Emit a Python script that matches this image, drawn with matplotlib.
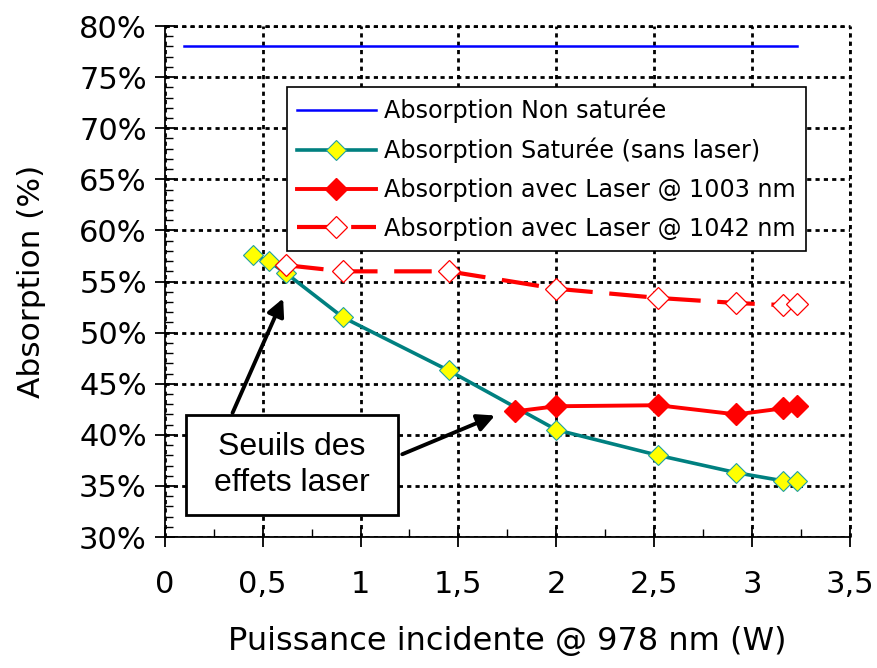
import matplotlib
matplotlib.use("Agg")
import matplotlib.pyplot as plt
from matplotlib.patches import Rectangle
from matplotlib.ticker import MultipleLocator, FuncFormatter

# ── données ─────────────────────────────────────────────────
x_nonsat = [0.1, 3.23]
y_nonsat = [78.0, 78.0]

x_sat = [0.45, 0.53, 0.62, 0.91, 1.45, 2.0, 2.52, 2.92, 3.16, 3.23]
y_sat = [57.6, 57.0, 55.8, 51.5, 46.3, 40.5, 38.0, 36.3, 35.5, 35.5]

x_1003 = [1.79, 2.0, 2.52, 2.92, 3.16, 3.23]
y_1003 = [42.3, 42.8, 42.9, 42.0, 42.6, 42.8]

x_1042 = [0.62, 0.91, 1.45, 2.0, 2.52, 2.92, 3.16, 3.23]
y_1042 = [56.6, 56.0, 56.0, 54.3, 53.4, 52.9, 52.7, 52.8]

labels = ["Absorption Non saturée", "Absorption Saturée (sans laser)",
          "Absorption avec Laser @ 1003 nm", "Absorption avec Laser @ 1042 nm"]

plt.rcParams["font.family"] = ["DejaVu Sans"]

fig = plt.figure(figsize=(8.77, 6.68), dpi=100)
ax = fig.add_axes([0.188, 0.196, 0.781, 0.765])

ax.plot(x_nonsat, y_nonsat, color="#0000ff", lw=1.8, label=labels[0])
ax.plot(x_sat, y_sat, color="#008080", lw=2.6, marker="D", ms=10,
        mfc="#ffff00", mec="#20a0a0", mew=0.8, label=labels[1], zorder=4)
ax.plot(x_1003, y_1003, color="#ff0000", lw=2.8, marker="D", ms=11,
        mfc="#ff0000", mec="#ff0000", label=labels[2], zorder=4)
ax.plot(x_1042, y_1042, color="#ff0000", lw=3, ls=(0, (9, 4)), marker="D", ms=11,
        mfc="white", mec="#ff0000", mew=0.9, label=labels[3], zorder=4)

ax.set_xlim(0, 3.5)
ax.set_ylim(30, 80)
ax.xaxis.set_major_locator(MultipleLocator(0.5))
ax.xaxis.set_minor_locator(MultipleLocator(0.25))
ax.yaxis.set_major_locator(MultipleLocator(5))
ax.yaxis.set_minor_locator(MultipleLocator(1))
ax.xaxis.set_major_formatter(FuncFormatter(lambda v, p: f"{v:g}".replace(".", ",")))
ax.yaxis.set_major_formatter(FuncFormatter(lambda v, p: f"{v:.0f}%"))

ax.tick_params(which="major", direction="inout", length=14, width=1.3,
               labelsize=22, pad=6)
ax.tick_params(which="minor", direction="in", length=6, width=1.0)
ax.tick_params(axis="x", pad=17)

for s in ["top", "right"]:
    ax.spines[s].set_visible(False)
for s in ["left", "bottom"]:
    ax.spines[s].set_linewidth(1.3)

ax.grid(True, which="major", color="black", ls=(0, (1.5, 1.5)), lw=2.0)
ax.axhline(80, color="black", ls=(0, (1.5, 1.5)), lw=2.0, clip_on=False)
ax.axvline(3.5, color="black", ls=(0, (1.5, 1.5)), lw=2.0, clip_on=False)

ax.set_xlabel("Puissance incidente @ 978 nm (W)", fontsize=23, labelpad=19)
ax.set_ylabel("Absorption (%)", fontsize=22.5, labelpad=24)

leg = ax.legend(loc="upper left", bbox_to_anchor=(0.178, 0.88), fontsize=17.2,
                frameon=True, fancybox=False, handlelength=3.3,
                borderpad=0.42, labelspacing=0.62, handletextpad=0.35,
                borderaxespad=0)
leg.get_frame().set_edgecolor("black")
leg.get_frame().set_linewidth(1.2)
leg.get_frame().set_alpha(1)

# annotation : flèches et encadré
ax.annotate("", xy=(0.61, 53.6), xytext=(0.34, 41.9),
            arrowprops=dict(arrowstyle="-|>", color="black", lw=2.8,
                            mutation_scale=26))
ax.annotate("", xy=(1.70, 42.0), xytext=(1.20, 38.0),
            arrowprops=dict(arrowstyle="-|>", color="black", lw=2.8,
                            mutation_scale=26))
ax.add_patch(Rectangle((0.11, 32.2), 1.08, 9.7, fc="white", ec="black",
                       lw=2.0, zorder=6))
ax.text(0.65, 37.05, "Seuils des\neffets laser", ha="center", va="center",
        fontsize=23, family=["Liberation Sans", "DejaVu Sans"], linespacing=1.25,
        zorder=7)

fig.savefig("out.png", dpi=100)
